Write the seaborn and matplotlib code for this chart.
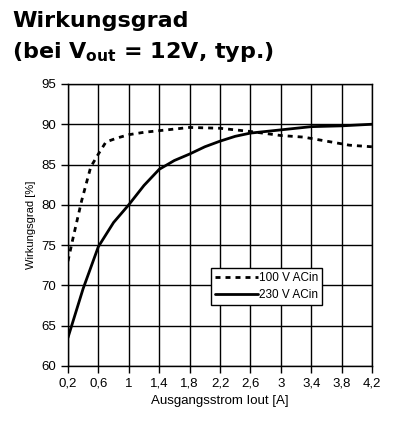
import pandas as pd
import matplotlib.pyplot as plt
import seaborn as sns

# efficiency curves
x_100 = [0.2, 0.27, 0.38, 0.5, 0.6, 0.7, 0.85, 1.0, 1.2, 1.4, 1.8, 2.2, 2.6, 3.0, 3.3, 3.6, 3.9, 4.2]
eff_100 = [73.0, 76.0, 80.5, 84.7, 86.3, 87.8, 88.3, 88.7, 89.0, 89.2, 89.6, 89.5, 89.1, 88.6, 88.4, 87.9, 87.4, 87.2]

x_230 = [0.2, 0.4, 0.6, 0.8, 1.0, 1.2, 1.4, 1.6, 1.8, 2.0, 2.2, 2.4, 2.6, 3.0, 3.4, 3.8, 4.2]
eff_230 = [63.5, 69.6, 74.8, 77.8, 80.0, 82.4, 84.4, 85.5, 86.3, 87.2, 87.9, 88.5, 88.9, 89.3, 89.7, 89.8, 90.0]

xticks = [0.2, 0.6, 1.0, 1.4, 1.8, 2.2, 2.6, 3.0, 3.4, 3.8, 4.2]
xtick_labels = ['0,2', '0,6', '1', '1,4', '1,8', '2,2', '2,6', '3', '3,4', '3,8', '4,2']
yticks = [60, 65, 70, 75, 80, 85, 90, 95]

df = pd.concat([
    pd.DataFrame({'Iout': x_100, 'eta': eff_100, 'series': '100 V ACin'}),
    pd.DataFrame({'Iout': x_230, 'eta': eff_230, 'series': '230 V ACin'}),
])

sns.set_style('white', {'text.color': 'black', 'axes.labelcolor': 'black',
                        'xtick.color': 'black', 'ytick.color': 'black'})
plt.rcParams['font.family'] = ['Liberation Sans', 'DejaVu Sans']

fig = plt.figure(figsize=(3.95, 4.24), dpi=100)
ax = fig.add_axes([0.172, 0.137, 0.77, 0.665])

sns.lineplot(data=df, x='Iout', y='eta', style='series', color='black',
             dashes={'100 V ACin': (1.8, 1.8), '230 V ACin': ''},
             linewidth=2, ax=ax, sort=False)

ax.set_xlim(0.2, 4.2)
ax.set_ylim(60, 95)
ax.set_xticks(xticks)
ax.set_xticklabels(xtick_labels)
ax.set_yticks(yticks)
ax.grid(True, color='black', linewidth=1)
ax.set_axisbelow(True)
for s in ax.spines.values():
    s.set_color('black')
    s.set_linewidth(1)
ax.tick_params(axis='both', direction='out', length=5, width=1, color='black',
               labelcolor='black', labelsize=9.5, bottom=True, left=True)
ax.set_xlabel('Ausgangsstrom Iout [A]', fontsize=9.5, color='black')
ax.set_ylabel('Wirkungsgrad [%]', fontsize=8, color='black')

leg = ax.legend(loc='lower left', bbox_to_anchor=(0.47, 0.215), frameon=True,
                fancybox=False, edgecolor='black', framealpha=1, fontsize=8.5,
                handlelength=3.6, handletextpad=0.1, borderpad=0.35, labelspacing=0.45,
                borderaxespad=0)
leg.get_frame().set_linewidth(1)
for t in leg.get_texts():
    t.set_color('black')

fig.text(0.03, 0.975, 'Wirkungsgrad', fontsize=16, fontweight='bold',
         family='DejaVu Sans', va='top', color='black')
fig.text(0.03, 0.905, r'(bei V$_{\mathbf{out}}$ = 12V, typ.)', fontsize=16, fontweight='bold',
         family='DejaVu Sans', va='top', color='black')

fig.savefig('out.png', dpi=100)
